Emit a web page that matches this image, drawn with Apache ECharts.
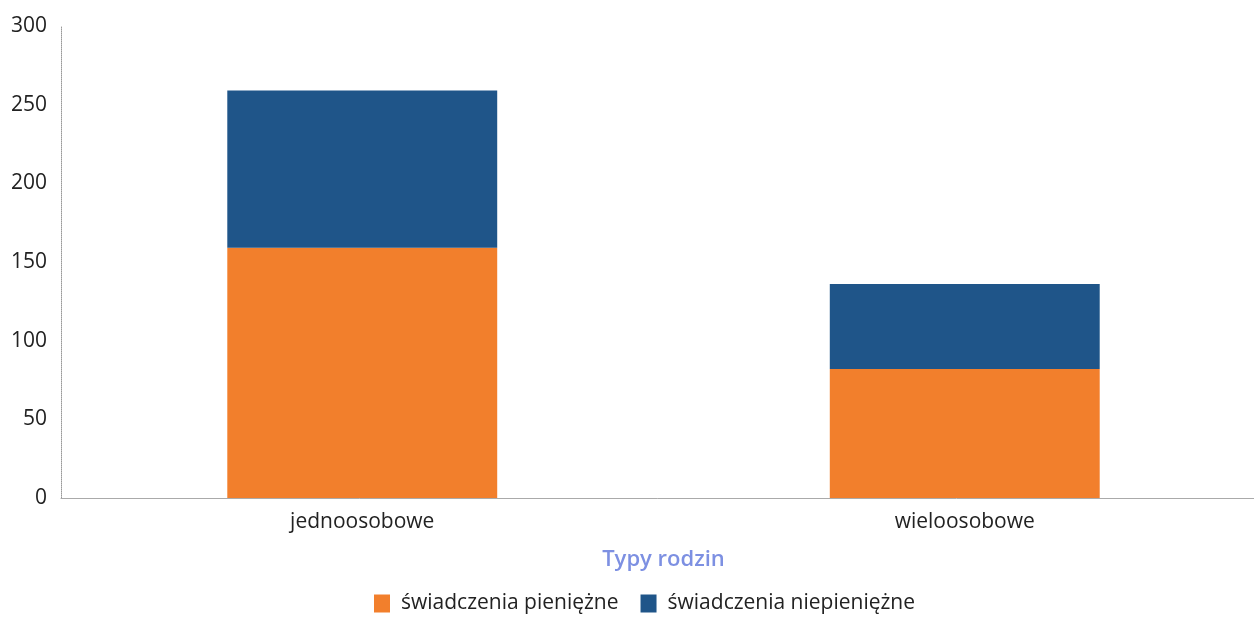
<!DOCTYPE html>
<html>
<head>
<meta charset="utf-8">
<script src="https://cdn.jsdelivr.net/npm/echarts@6/dist/echarts.min.js"></script>
<style>html,body{margin:0;padding:0;background:#fff;overflow:hidden}#c{width:1254px;height:622px}</style>
</head>
<body>
<div id="c"></div>
<script>
var categories = ['jednoosobowe', 'wieloosobowe'];
var seriesNames = ['świadczenia pieniężne', 'świadczenia niepieniężne'];
var pieniezne = [159, 82];
var niepieniezne = [100, 54];
var yTicks = [0, 50, 100, 150, 200, 250, 300];

var chart = echarts.init(document.getElementById('c'));
chart.setOption({
  animation: false,
  textStyle: { fontFamily: 'Open Sans' },
  grid: { left: 61, width: 1205, top: 26, bottom: 124, containLabel: false, outerBoundsMode: 'none' },
  legend: {
    bottom: 3,
    left: 369,
    itemWidth: 16,
    itemHeight: 18,
    itemGap: 22,
    icon: 'rect',
    textStyle: { fontSize: 21, color: '#222', fontFamily: 'Open Sans', padding: [0, 0, 0, 6] },
    data: seriesNames
  },
  xAxis: {
    type: 'category',
    data: categories,
    name: 'Typy rodzin',
    nameLocation: 'middle',
    nameGap: 51,
    nameTextStyle: { fontSize: 22, color: '#7d90e2', fontWeight: 600, fontFamily: 'Open Sans' },
    axisLine: { lineStyle: { color: '#aaa', width: 1 } },
    axisTick: { show: false },
    axisLabel: { fontSize: 21, color: '#222', margin: 14, fontFamily: 'Open Sans' }
  },
  yAxis: {
    type: 'value',
    min: yTicks[0],
    max: yTicks[yTicks.length - 1],
    interval: 50,
    axisLine: { show: true, lineStyle: { color: '#999', width: 1, type: 'dotted' } },
    axisTick: { show: false },
    splitLine: { show: false },
    axisLabel: { fontSize: 21, color: '#222', margin: 14, fontFamily: 'Open Sans' }
  },
  series: [
    {
      name: seriesNames[0], type: 'bar', stack: 's', data: pieniezne,
      barWidth: '44.8%', itemStyle: { color: '#F27F2C' }
    },
    {
      name: seriesNames[1], type: 'bar', stack: 's', data: niepieniezne,
      barWidth: '44.8%', itemStyle: { color: '#1F5589' }
    }
  ]
});
</script>
</body>
</html>
